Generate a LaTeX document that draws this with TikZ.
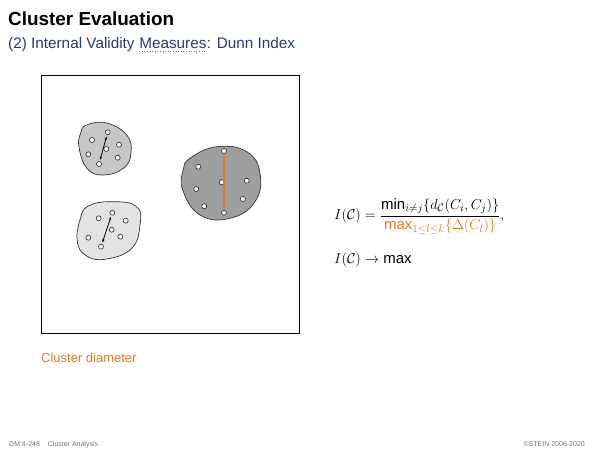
\documentclass[tikz,border=0pt]{standalone}
\usepackage{fontspec}
\setmainfont{Liberation Sans}
\usepackage{amsmath}
\usetikzlibrary{arrows.meta}
\definecolor{orng}{RGB}{232,119,34}
\definecolor{titleblue}{RGB}{36,58,130}
\begin{document}
\begin{tikzpicture}[x=1pt,y=-1pt,
  pt/.style={circle,draw=black!85,fill=white,line width=0.6pt,inner sep=0pt,minimum size=5pt},
  blob/.style={draw=black!80,line width=0.7pt},
  subt/.style={anchor=base west,inner sep=0pt,font=\fontsize{15.3}{18}\selectfont,text=titleblue},
  diam/.style={{Stealth[length=3.5pt,width=2.6pt]}-{Stealth[length=3.5pt,width=2.6pt]},line width=0.8pt,shorten <=1.5pt,shorten >=1.5pt}]
\useasboundingbox (0,0) rectangle (600,450);
% title
\node[anchor=base west,inner sep=0pt,font=\fontsize{18.9}{22}\selectfont\bfseries] (title) at (8,25) {Cluster Evaluation};
\node[subt] (sub1) at (8,48) {(2) Internal Validity};
\node[subt] (sub2) at ([xshift=4.3pt]sub1.base east) {Measures};
\node[subt] (sub3) at (sub2.base east) {: Dunn Index};
\draw[titleblue!70,dotted,line width=0.6pt] ([yshift=-3pt]sub2.base west) -- ([yshift=-3pt]sub2.base east);
% frame
\draw[line width=0.7pt] (41,75) rectangle (299,333);
% cluster 1
\draw[blob,fill=black!22] plot[smooth cycle,tension=0.75] coordinates {(86.7,125) (106.7,123) (126.7,135) (131,153) (123.3,168.3) (103,175) (86.7,168) (79,147) (80.7,133)};
\node[pt] (c1a) at (107.7,132.3) {};
\node[pt] (c1b) at (92,140) {};
\node[pt] (c1c) at (119,144.7) {};
\node[pt] (c1d) at (106.3,149) {};
\node[pt] (c1e) at (88.3,154.3) {};
\node[pt] (c1f) at (117.7,157.7) {};
\node[pt] (c1g) at (99,164) {};
\draw[diam] (c1g) -- (c1a);
% cluster 2
\draw[blob,fill=black!11] plot[smooth cycle,tension=0.75] coordinates {(88.3,206) (113.3,201.7) (136.7,206.7) (140,225) (131.7,248.3) (106.7,259) (86.7,256) (77.3,241.7) (80,220)};
\node[pt] (c2a) at (112.3,212.7) {};
\node[pt] (c2b) at (98.7,218.3) {};
\node[pt] (c2c) at (125.7,220.7) {};
\node[pt] (c2d) at (111.7,229.7) {};
\node[pt] (c2e) at (88.3,237.7) {};
\node[pt] (c2f) at (120.3,236.7) {};
\node[pt] (c2g) at (101,246.7) {};
\draw[diam] (c2g) -- (c2a);
% cluster 3
\draw[blob,fill=black!38] plot[smooth cycle,tension=0.75] coordinates {(190,158.3) (216.7,146.7) (246.7,151.7) (260,173.3) (255,201.7) (230,218.3) (200,215) (182.7,190) (183.3,170)};
\node[pt] (c3a) at (224,151) {};
\node[pt] (c3b) at (198.3,166.7) {};
\node[pt] (c3c) at (221.7,182.3) {};
\node[pt] (c3d) at (246.7,180.7) {};
\node[pt] (c3e) at (196.3,189) {};
\node[pt] (c3f) at (243,199) {};
\node[pt] (c3g) at (204.3,206.3) {};
\node[pt] (c3h) at (224,212.7) {};
\draw[diam,orng,line width=1.3pt] (c3a) -- (c3h);
% formula
\node[anchor=west,inner sep=0pt,font=\fontsize{15}{18}\selectfont] (f1) at (334,216)
  {$I(\mathcal{C}) = \dfrac{\text{min}_{i\neq j}\{d_{\mathcal{C}}(C_i,C_j)\}}{\color{orng}\text{max}_{1\leq l\leq k}\{\Delta(C_l)\}},$};
\node[anchor=base west,inner sep=0pt,font=\fontsize{15}{18}\selectfont] (f2) at (334,263)
  {$I(\mathcal{C}) \rightarrow \text{max}$};
% caption
\node[anchor=base west,inner sep=0pt,font=\fontsize{13}{15}\selectfont,text=orng] (cap) at (41,362) {Cluster diameter};
% footer
\node[anchor=base west,inner sep=0pt,font=\fontsize{7}{8}\selectfont,text=black!55] (foot1) at (9,446) {DM:II-248\hspace{8pt}Cluster Analysis};
\node[anchor=base east,inner sep=0pt,font=\fontsize{7}{8}\selectfont,text=black!55] (foot2) at (585,446) {©STEIN 2006-2020};
\end{tikzpicture}
\end{document}
